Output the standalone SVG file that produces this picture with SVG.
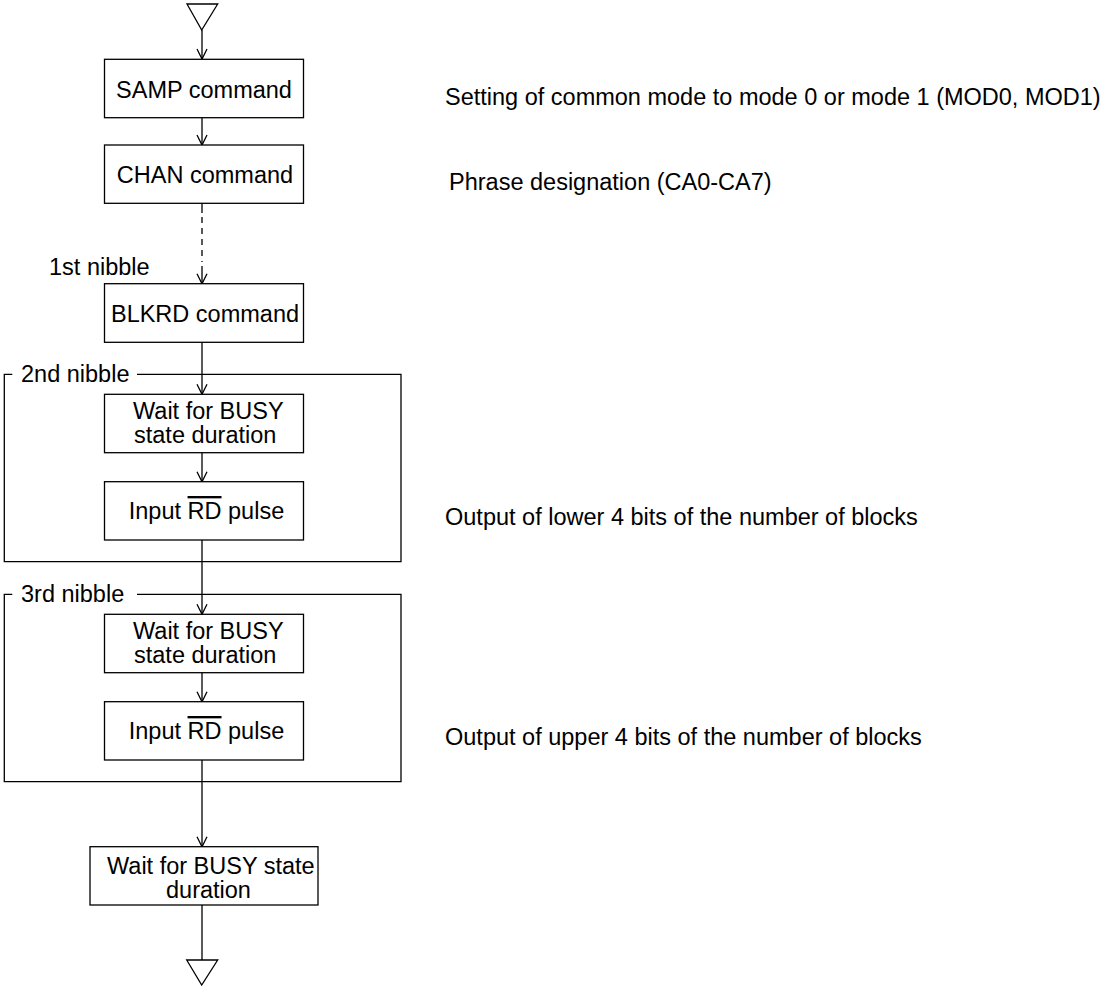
<svg xmlns="http://www.w3.org/2000/svg" width="1113" height="986" viewBox="0 0 1113 986">
<style>
  .box { fill: #fff; stroke: #000; stroke-width: 1.3; }
  .ln { fill: none; stroke: #000; stroke-width: 1.3; }
  .dash { fill: none; stroke: #000; stroke-width: 1.3; stroke-dasharray: 6 5; }
  .term { fill: #fff; stroke: #000; stroke-width: 1.3; }
  text { font-family: "Liberation Sans", Arial, sans-serif; font-size: 23.5px; fill: #000; }
  .c { text-anchor: middle; }
</style>
<defs>
  <marker id="arr" markerUnits="userSpaceOnUse" markerWidth="14" markerHeight="14" viewBox="-12 -7 14 14" refX="0" refY="0" orient="auto" overflow="visible">
    <path d="M-10,-5 L0,0 L-10,5" fill="none" stroke="#000" stroke-width="1.3"/>
  </marker>
</defs>

<g id="frames">
  <path id="frame-2nd" class="ln" d="M12.3,374.3 L4.3,374.3 L4.3,561.7 L401,561.7 L401,374.3 L137,374.3"/>
  <text x="21" y="382">2nd nibble</text>
  <path id="frame-3rd" class="ln" d="M12.3,594.3 L4.3,594.3 L4.3,781.7 L401,781.7 L401,594.3 L137,594.3"/>
  <text x="21" y="602">3rd nibble</text>
</g>

<g id="connectors">
  <path class="ln" d="M202,30 L202,59" marker-end="url(#arr)"/>
  <path class="ln" d="M202,118 L202,145" marker-end="url(#arr)"/>
  <path class="ln" d="M202,203 L202,213"/>
  <path class="dash" d="M202,217 L202,262"/>
  <path class="ln" d="M202,266 L202,283.7" marker-end="url(#arr)"/>
  <path class="ln" d="M202,342.3 L202,394.3" marker-end="url(#arr)"/>
  <path class="ln" d="M202,452.7 L202,481.7" marker-end="url(#arr)"/>
  <path class="ln" d="M202,540 L202,614.3" marker-end="url(#arr)"/>
  <path class="ln" d="M202,672.7 L202,701.7" marker-end="url(#arr)"/>
  <path class="ln" d="M202,760 L202,846.7" marker-end="url(#arr)"/>
  <path class="ln" d="M202,905 L202,960"/>
</g>

<g id="start">
  <polygon class="term" points="187,4 217.7,4 201.7,30"/>
</g>

<g id="samp">
  <rect class="box" x="104.5" y="59.3" width="199" height="58.4"/>
  <text class="c" x="204" y="97.5">SAMP command</text>
</g>
<text x="445" y="105">Setting of common mode to mode 0 or mode 1 (MOD0, MOD1)</text>

<g id="chan">
  <rect class="box" x="104.5" y="145" width="199" height="58.3"/>
  <text class="c" x="205" y="183.3">CHAN command</text>
</g>
<text x="449" y="190">Phrase designation (CA0-CA7)</text>

<text x="49" y="275">1st nibble</text>
<g id="blkrd">
  <rect class="box" x="104.5" y="283.7" width="199" height="58.6"/>
  <text class="c" x="205" y="322">BLKRD command</text>
</g>

<g id="wait1">
  <rect class="box" x="104.5" y="394.3" width="199" height="58.4"/>
  <text x="133" y="419.3">Wait for BUSY<tspan x="134" y="443">state duration</tspan></text>
</g>
<g id="input1">
  <rect class="box" x="104.5" y="481.7" width="199" height="58.3"/>
  <text class="c" x="206.5" y="519">Input <tspan text-decoration="overline">RD</tspan> pulse</text>
</g>
<text x="445" y="525">Output of lower 4 bits of the number of blocks</text>

<g id="wait2">
  <rect class="box" x="104.5" y="614.3" width="199" height="58.4"/>
  <text x="133" y="639.3">Wait for BUSY<tspan x="134" y="663">state duration</tspan></text>
</g>
<g id="input2">
  <rect class="box" x="104.5" y="701.7" width="199" height="58.3"/>
  <text class="c" x="206.5" y="739">Input <tspan text-decoration="overline">RD</tspan> pulse</text>
</g>
<text x="445" y="745">Output of upper 4 bits of the number of blocks</text>

<g id="wait3">
  <rect class="box" x="90" y="846.7" width="228" height="58.3"/>
  <text x="107" y="874">Wait for BUSY state<tspan x="166" y="897.5">duration</tspan></text>
</g>

<g id="end">
  <polygon class="term" points="186.7,960 217.7,960 201.7,985"/>
</g>
</svg>
